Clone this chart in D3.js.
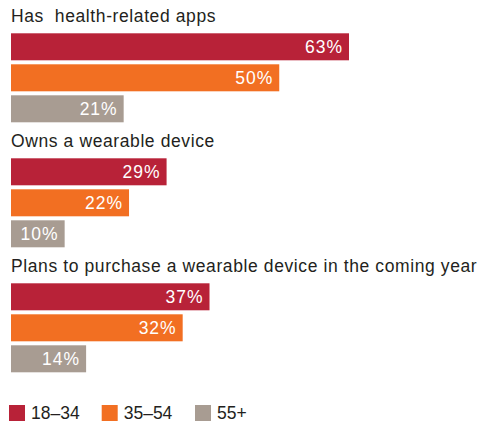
<!DOCTYPE html>
<html>
<head>
<meta charset="utf-8">
<script src="https://cdn.jsdelivr.net/npm/d3@7"></script>
<style>
  html, body { margin: 0; padding: 0; background: #fff; }
  svg { display: block; font-family: "Liberation Sans", Arial, Helvetica, sans-serif; }
</style>
</head>
<body>
<svg id="chart" width="477" height="423"></svg>
<script>
// Survey questions (one group each) and age bands
const questions = [
  "Has\u00a0 health-related apps",
  "Owns a wearable device",
  "Plans to purchase a wearable device in the coming year"
];
const ageGroups = ["18–34", "35–54", "55+"];

// Percent of respondents, per question, by age band
const values18to34 = [63, 29, 37];
const values35to54 = [50, 22, 32];
const values55plus = [21, 10, 14];

const colors = ["#b82238", "#f26f22", "#a89c92"];

const seriesValues = [values18to34, values35to54, values55plus];

const svg = d3.select("#chart");
const textColor = "#231f20";

const x = d3.scaleLinear().domain([0, 100]).range([11, 11 + 536.5]);
const groupY = d3.scaleLinear().domain([0, 1]).range([0, 125]);
const band = d3.scaleBand().domain(ageGroups).range([33.3, 122.3]).paddingInner(4 / 31).paddingOuter(0);
const color = d3.scaleOrdinal().domain(ageGroups).range(colors);

questions.forEach((q, qi) => {
  const g = svg.append("g").attr("transform", `translate(0,${groupY(qi)})`);
  g.append("text")
    .attr("x", 11)
    .attr("y", 22)
    .attr("fill", textColor)
    .attr("font-size", 17.5)
    .attr("letter-spacing", 0.6)
    .text(q);

  const rows = ageGroups.map((a, ai) => ({ age: a, value: seriesValues[ai][qi] }));

  g.selectAll("rect").data(rows).join("rect")
    .attr("x", x(0))
    .attr("y", d => band(d.age))
    .attr("width", d => x(d.value) - x(0))
    .attr("height", band.bandwidth())
    .attr("fill", d => color(d.age));

  g.selectAll("text.val").data(rows).join("text")
    .attr("class", "val")
    .attr("x", d => x(d.value) - 6)
    .attr("y", d => band(d.age) + band.bandwidth() / 2)
    .attr("dy", "0.36em")
    .attr("text-anchor", "end")
    .attr("fill", "#fff")
    .attr("font-size", 17.5)
    .attr("letter-spacing", 1)
    .text(d => d.value + "%");
});

// Legend
const legendX = [9, 101.7, 195];
const legend = svg.append("g").attr("transform", "translate(0,405)");
ageGroups.forEach((a, i) => {
  legend.append("rect")
    .attr("x", legendX[i])
    .attr("y", 0)
    .attr("width", 16)
    .attr("height", 16)
    .attr("fill", color(a));
  legend.append("text")
    .attr("x", legendX[i] + 22)
    .attr("y", 8)
    .attr("dy", "0.36em")
    .attr("fill", textColor)
    .attr("font-size", 17.5)
    .text(a);
});
</script>
</body>
</html>
